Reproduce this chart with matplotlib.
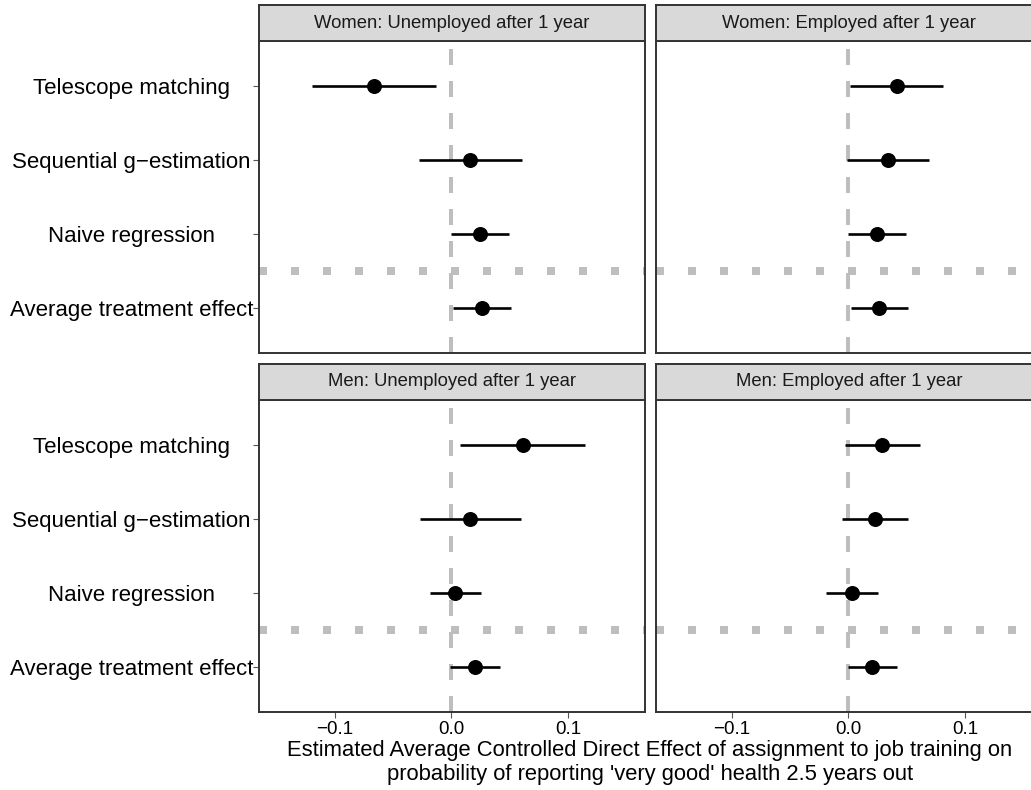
import matplotlib
matplotlib.use("Agg")
import matplotlib.pyplot as plt
import numpy as np

plt.rcParams['font.family'] = ['Liberation Sans', 'DejaVu Sans']

methods = ["Telescope matching", "Sequential g\u2212estimation", "Naive regression", "Average treatment effect"]
ypos = [4, 3, 2, 1]
panels = ["Women: Unemployed after 1 year", "Women: Employed after 1 year",
          "Men: Unemployed after 1 year", "Men: Employed after 1 year"]

est_wu = [-0.0664, 0.0162, 0.0242, 0.0265]
lo_wu = [-0.1197, -0.0282, 0.0000, 0.0017]
hi_wu = [-0.0131, 0.0604, 0.0493, 0.0510]

est_we = [0.0413, 0.0336, 0.0245, 0.0265]
lo_we = [0.0014, -0.0011, 0.0000, 0.0020]
hi_we = [0.0809, 0.0687, 0.0493, 0.0510]

est_mu = [0.0610, 0.0160, 0.0031, 0.0205]
lo_mu = [0.0071, -0.0268, -0.0185, -0.0009]
hi_mu = [0.1142, 0.0593, 0.0251, 0.0413]

est_me = [0.0290, 0.0231, 0.0028, 0.0202]
lo_me = [-0.0028, -0.0051, -0.0188, -0.0003]
hi_me = [0.0613, 0.0513, 0.0251, 0.0413]

xticks = [-0.1, 0.0, 0.1]
xticklabels = ["\u22120.1", "0.0", "0.1"]

data = [(est_wu, lo_wu, hi_wu), (est_we, lo_we, hi_we),
        (est_mu, lo_mu, hi_mu), (est_me, lo_me, hi_me)]

W, H = 1031, 790
fig = plt.figure(figsize=(W / 100, H / 100), dpi=100)

px_w = 1.0 / W
px_h = 1.0 / H
lefts = [259, 656]
panel_w = 386
tops = [41, 400]
panel_h = 312
strip_h = 36

for i in range(4):
    r, c = divmod(i, 2)
    left = lefts[c]
    top = tops[r]
    ax = fig.add_axes([left * px_w, (H - top - panel_h) * px_h, panel_w * px_w, panel_h * px_h])
    sax = fig.add_axes([left * px_w, (H - top) * px_h, panel_w * px_w, strip_h * px_h])
    sax.set_facecolor('#D9D9D9')
    sax.set_xticks([]); sax.set_yticks([])
    for s in sax.spines.values():
        s.set_color('#333333'); s.set_linewidth(1.4)
    sax.text(0.5, 0.5, panels[i], transform=sax.transAxes, ha='center', va='center',
             fontsize=13.3, color='#1A1A1A')

    est, lo, hi = data[i]
    ax.axvline(0, color='#BEBEBE', lw=2.88, linestyle=(0, (4, 4)), zorder=1)
    ax.axhline(1.5, color='#BEBEBE', lw=5.76, linestyle=(0, (1, 3)), solid_capstyle='butt',
               dash_capstyle='butt', zorder=1)
    ax.hlines(ypos, lo, hi, color='black', lw=1.9, zorder=2)
    ax.plot(est, ypos, 'o', color='black', ms=10.8, mew=0, zorder=3)

    ax.set_xlim(-0.165, 0.166)
    ax.set_ylim(0.4, 4.6)
    for s in ax.spines.values():
        s.set_color('#333333'); s.set_linewidth(1.4)

    if c == 0:
        ax.set_yticks(ypos)
        ax.set_yticklabels(methods, fontsize=16, color='black', ha='center')
        ax.tick_params(axis='y', length=4, width=0.8, color='#555555', pad=87.8)
    else:
        ax.set_yticks([])
    if r == 1:
        ax.set_xticks(xticks)
        ax.set_xticklabels(xticklabels, fontsize=13.5, color='black')
        ax.tick_params(axis='x', length=4, width=0.8, color='#555555', pad=2.5)
    else:
        ax.set_xticks([])

fig.text(650 * px_w, (H - 762.5) * px_h,
         "Estimated Average Controlled Direct Effect of assignment to job training on\n"
         "probability of reporting 'very good' health 2.5 years out",
         ha='center', va='center', multialignment='center', fontsize=15.85, linespacing=1.2,
         color='black')

fig.savefig("out.png", dpi=100)
